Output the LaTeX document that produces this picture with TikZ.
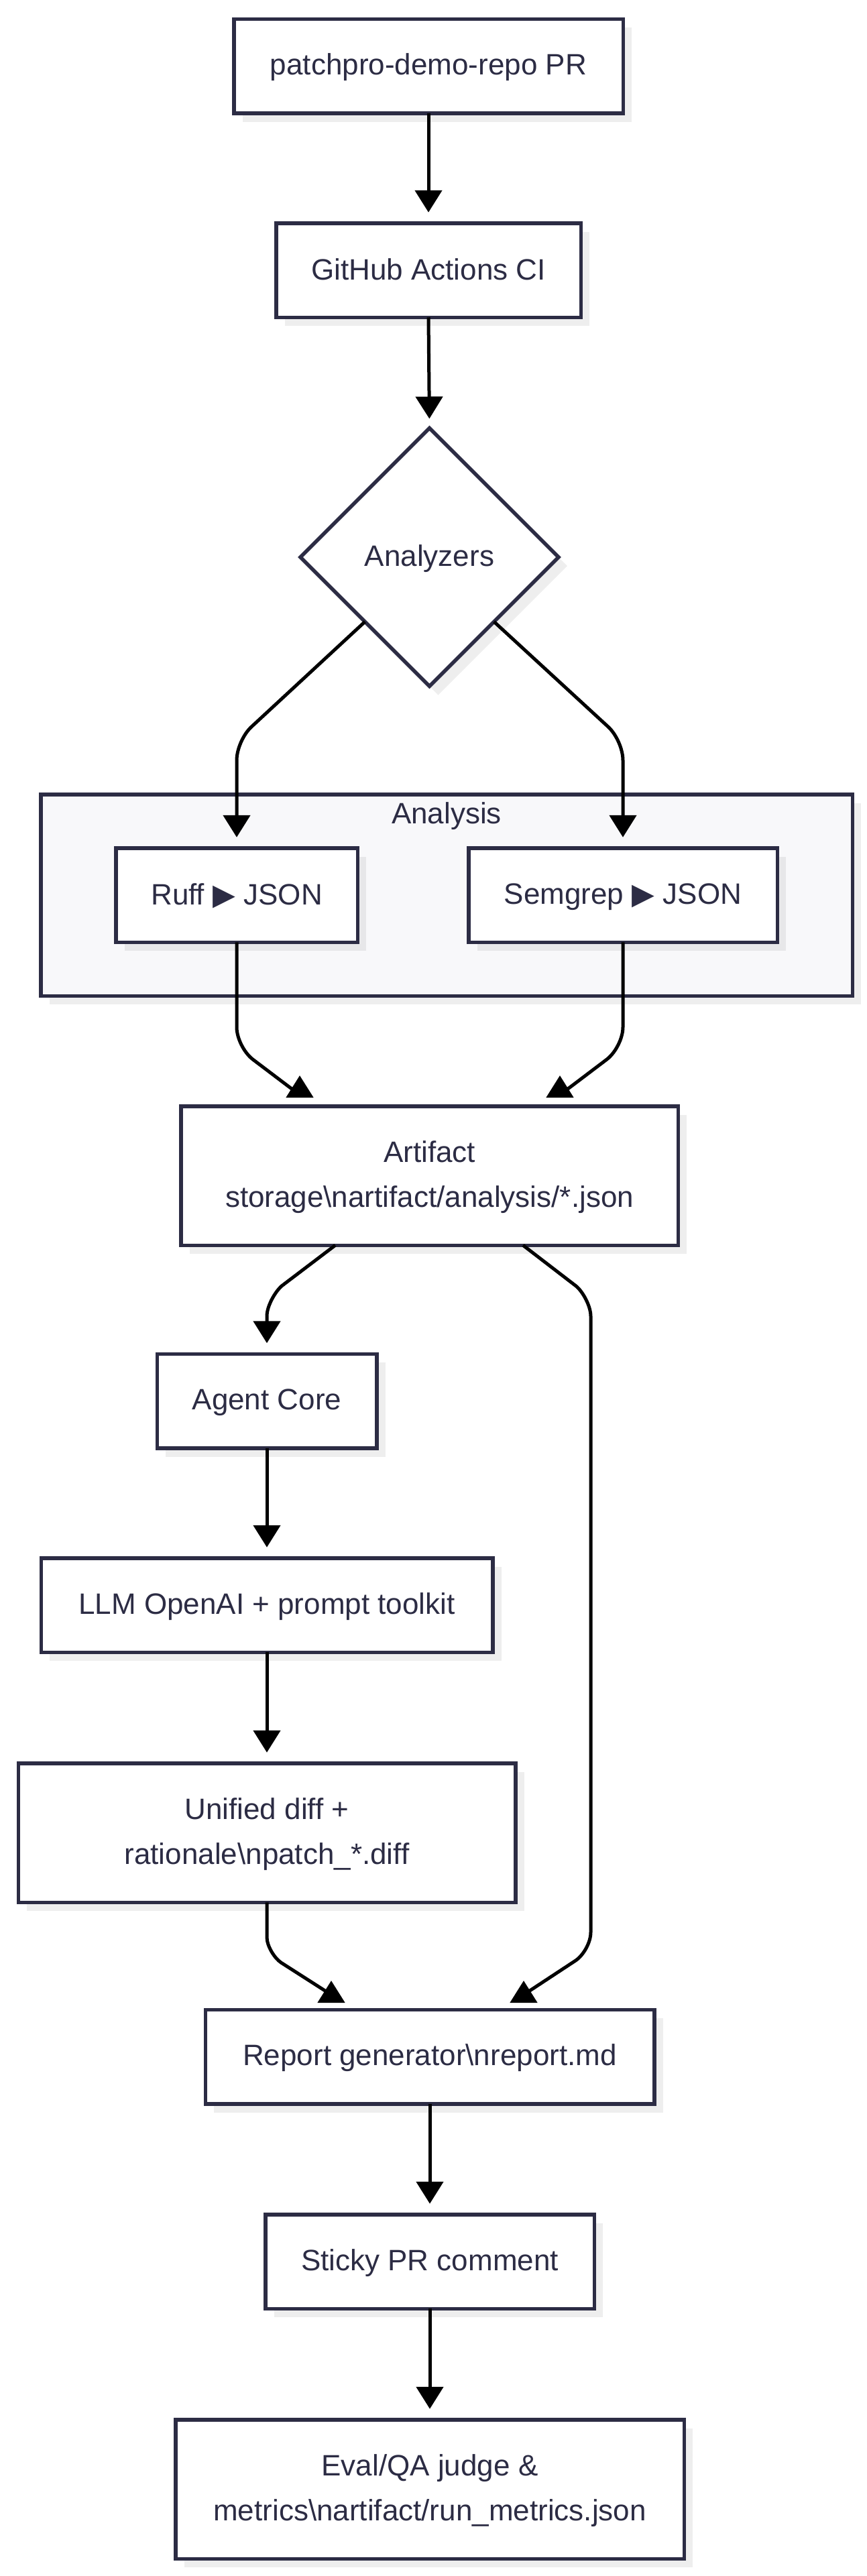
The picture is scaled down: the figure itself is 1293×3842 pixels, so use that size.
\documentclass[tikz,border=0pt]{standalone}
\usepackage{fontspec}
\setmainfont{Liberation Sans}
\newfontfamily\symfont{DejaVu Sans}
\usetikzlibrary{shapes.geometric,arrows.meta,shadows,calc}
\definecolor{bordc}{HTML}{2C2C44}
\definecolor{txtc}{HTML}{2C2C44}
\definecolor{clfill}{HTML}{F8F8FA}
\newcommand{\mystrut}{\rule[-8pt]{0pt}{44pt}}
\begin{document}
\begin{tikzpicture}[x=1pt,y=-1pt,
  shadowed/.style={drop shadow={shadow xshift=13pt,shadow yshift=-13pt,fill=black,opacity=0.065}},
  box/.style={shadowed,draw=bordc,line width=5.5pt,fill=white,text=txtc,inner sep=0pt,outer sep=0pt,align=center,font=\fontsize{44}{67}\selectfont,minimum height=140.5pt},
  tall/.style={minimum height=207.5pt},
  decision/.style={box,diamond,aspect=1,minimum width=385pt,minimum height=385pt},
  cluster/.style={shadowed,draw=bordc,line width=5.5pt,fill=clfill,inner sep=0pt,outer sep=0pt},
  lbl/.style={text=txtc,inner sep=0pt,font=\fontsize{44}{67}\selectfont},
  conn/.style={draw=black,line width=5pt},
  arrowed/.style={-{Triangle[width=40pt,length=33pt]}},
  stopshort/.style={shorten >=16pt},
]
\fill[white] (0,0) rectangle (1293,3842);
\useasboundingbox (0,0) rectangle (1293,3842);

% cluster
\node[cluster,minimum width=1210.5pt,minimum height=300.5pt] (ana) at (666,1335) {};
\node[lbl] (analbl) at (666,1215) {\mystrut Analysis};

% nodes
\node[box,minimum width=580.5pt] (pr) at (639,98.5) {\mystrut patchpro-demo-repo PR};
\node[box,minimum width=454.5pt] (ci) at (639,403) {\mystrut GitHub Actions CI};
\node[decision] (dia) at (640.5,831) {\mystrut Analyzers};
\node[box,minimum width=360.5pt] (ruff) at (353,1335) {\mystrut Ruff {\symfont ▶} JSON};
\node[box,minimum width=460.5pt] (sem) at (929,1335) {\mystrut Semgrep {\symfont ▶} JSON};
\node[box,tall,minimum width=741.5pt] (art) at (640.5,1753.5) {\mystrut Artifact\\\mystrut storage\textbackslash nartifact/analysis/*.json};
\node[box,minimum width=327.5pt] (agent) at (398,2089.5) {\mystrut Agent Core};
\node[box,minimum width=673.5pt] (llm) at (398,2394) {\mystrut LLM OpenAI + prompt toolkit};
\node[box,tall,minimum width=741.5pt] (diff) at (398,2733.5) {\mystrut Unified diff +\\\mystrut rationale\textbackslash npatch\_*.diff};
\node[box,minimum width=669.5pt] (rep) at (641,3067.5) {\mystrut Report generator\textbackslash nreport.md};
\node[box,minimum width=490.5pt] (sticky) at (641,3373) {\mystrut Sticky PR comment};
\node[box,tall,minimum width=758.5pt] (eval) at (641,3712.5) {\mystrut Eval/QA judge \&\\\mystrut metrics\textbackslash nartifact/run\_metrics.json};

% tip points of the converging arrows
\coordinate (ta1) at (447,1604);
\coordinate (ta2) at (835,1604);
\coordinate (tr1) at (494,2954);
\coordinate (tr2) at (781,2954);

% connectors
\draw[conn,arrowed,stopshort] (pr.south) -- (ci.north);
\draw[conn,arrowed,shorten >=14pt] (ci.south) -- (dia.north);
\draw[conn,arrowed,stopshort] ($(dia.south)!0.5!(dia.west)$) -- (375,1084) .. controls (363,1095) and (353,1117) .. (353,1134) -- (ruff.north);
\draw[conn,arrowed,stopshort] ($(dia.south)!0.5!(dia.east)$) -- (907,1084) .. controls (919,1095) and (929,1117) .. (929,1134) -- (sem.north);
\draw[conn,arrowed] (ruff.south) -- (353,1532) .. controls (353,1548.5) and (364,1570) .. (377,1580) -- (447,1633) -- (ta1);
\draw[conn,arrowed] (sem.south) -- (929,1532) .. controls (929,1548.5) and (918,1570) .. (905,1580) -- (835,1633) -- (ta2);
\draw[conn,arrowed,stopshort] ($(art.south)+(-140.5,0)$) -- (420,1918) .. controls (410,1927) and (398,1948) .. (398,1963) -- (agent.north);
\draw[conn,arrowed] ($(art.south)+(139.5,0)$) -- (859,1918) .. controls (869,1926) and (881,1948) .. (881,1963) -- (881,2882) .. controls (881,2897) and (870,2917) .. (857,2925) -- (781,2975) -- (tr2);
\draw[conn,arrowed,stopshort] (agent.south) -- (llm.north);
\draw[conn,arrowed,stopshort] (llm.south) -- (diff.north);
\draw[conn,arrowed] (diff.south) -- (398,2889) .. controls (398,2903) and (410,2921) .. (419,2927) -- (494,2975) -- (tr1);
\draw[conn,arrowed,stopshort] (rep.south) -- (sticky.north);
\draw[conn,arrowed,stopshort] (sticky.south) -- (eval.north);
\end{tikzpicture}
\end{document}
